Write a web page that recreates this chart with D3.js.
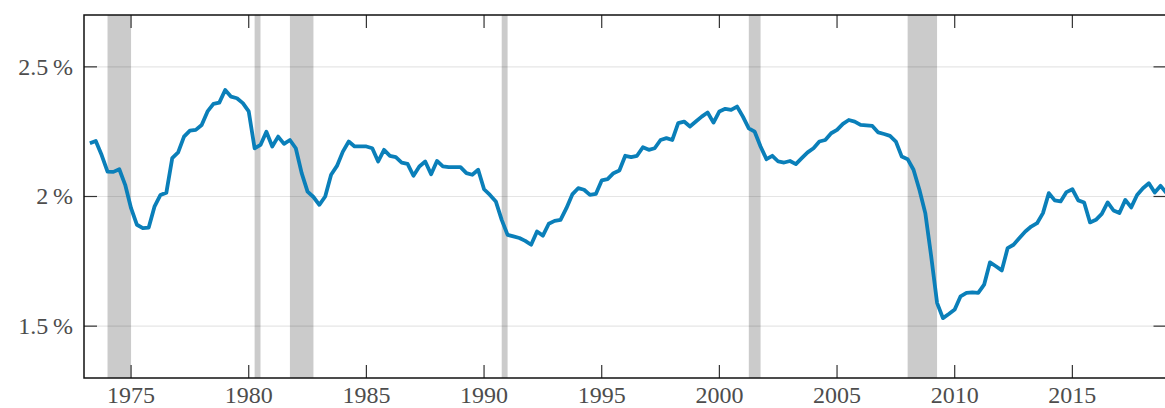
<!DOCTYPE html>
<html>
<head>
<meta charset="utf-8">
<script src="https://cdn.jsdelivr.net/npm/d3@7"></script>
<style>
  html, body { margin: 0; padding: 0; background: #fff; }
</style>
</head>
<body>
<div id="viz"></div>
<script>
var W = 1165, H = 408;
var margin = {left: 84, top: 15, right: -1.5, bottom: 30};
var labelFont = "'Liberation Serif', 'Times New Roman', 'DejaVu Serif', serif";

// quarterly series, first value is 1973 Q2 (plotted at 1973.25)
var firstQuarter = 1973.25;
var values = [
                2.205, 2.214, 2.160,   // 1973
  2.096, 2.095, 2.105, 2.045,          // 1974
  1.955, 1.891, 1.878, 1.880,          // 1975
  1.962, 2.006, 2.015, 2.148,          // 1976
  2.170, 2.231, 2.254, 2.257,          // 1977
  2.276, 2.328, 2.357, 2.362,          // 1978
  2.411, 2.385, 2.379, 2.360,          // 1979
  2.328, 2.186, 2.199, 2.250,          // 1980
  2.193, 2.231, 2.203, 2.218,          // 1981
  2.186, 2.090, 2.019, 1.998,          // 1982
  1.968, 2.000, 2.084, 2.118,          // 1983
  2.173, 2.212, 2.193, 2.193,          // 1984
  2.193, 2.186, 2.135, 2.180,          // 1985
  2.157, 2.152, 2.131, 2.126,          // 1986
  2.080, 2.116, 2.135, 2.086,          // 1987
  2.137, 2.116, 2.113, 2.113,          // 1988
  2.113, 2.090, 2.084, 2.103,          // 1989
  2.028, 2.006, 1.981, 1.910,          // 1990
  1.852, 1.846, 1.840, 1.829,          // 1991
  1.814, 1.865, 1.849, 1.895,          // 1992
  1.906, 1.910, 1.955, 2.008,          // 1993
  2.032, 2.026, 2.006, 2.010,          // 1994
  2.062, 2.067, 2.090, 2.100,          // 1995
  2.157, 2.152, 2.157, 2.190,          // 1996
  2.180, 2.186, 2.218, 2.225,          // 1997
  2.218, 2.283, 2.289, 2.270,          // 1998
  2.289, 2.308, 2.324, 2.285,          // 1999
  2.328, 2.338, 2.334, 2.347,          // 2000
  2.308, 2.263, 2.250, 2.193,          // 2001
  2.144, 2.157, 2.135, 2.131,          // 2002
  2.137, 2.125, 2.148, 2.170,          // 2003
  2.186, 2.212, 2.218, 2.244,          // 2004
  2.257, 2.280, 2.295, 2.289,          // 2005
  2.276, 2.274, 2.272, 2.247,          // 2006
  2.241, 2.234, 2.212, 2.154,          // 2007
  2.144, 2.103, 2.026, 1.936,          // 2008
  1.770, 1.590, 1.531, 1.547,          // 2009
  1.564, 1.615, 1.628, 1.630,          // 2010
  1.628, 1.660, 1.746, 1.731,          // 2011
  1.715, 1.801, 1.814, 1.840,          // 2012
  1.865, 1.884, 1.897, 1.936,          // 2013
  2.013, 1.985, 1.981, 2.017,          // 2014
  2.028, 1.985, 1.977, 1.900,          // 2015
  1.910, 1.933, 1.977, 1.946,          // 2016
  1.936, 1.987, 1.958, 2.006,          // 2017
  2.032, 2.051, 2.015, 2.041,          // 2018
  2.013                                // 2019
];

// recession periods (start, end) in fractional years
var recessions = [
  [1974.0, 1975.0],
  [1980.25, 1980.5],
  [1981.75, 1982.75],
  [1990.75, 1991.0],
  [2001.25, 2001.75],
  [2008.0, 2009.25]
];

var xTicks = [1975, 1980, 1985, 1990, 1995, 2000, 2005, 2010, 2015];
var yTicks = [1.5, 2.0, 2.5];
var yTickLabels = ["1.5\u2009%", "2\u2009%", "2.5\u2009%"];

var data = values.map(function(v, i) {
  return {year: firstQuarter + i * 0.25, value: v};
});

var svg = d3.select("#viz").append("svg")
  .attr("width", W)
  .attr("height", H);

var x = d3.scaleLinear().domain([1973, 2019]).range([margin.left, W - margin.right]);
var y = d3.scaleLinear().domain([1.3, 2.7]).range([H - margin.bottom, margin.top]);

var x0 = x.range()[0], x1 = x.range()[1];
var y0 = y.range()[0], y1 = y.range()[1];

// recession bands
svg.append("g").selectAll("rect")
  .data(recessions)
  .enter().append("rect")
  .attr("x", function(d) { return x(d[0]); })
  .attr("width", function(d) { return x(d[1]) - x(d[0]); })
  .attr("y", y1)
  .attr("height", y0 - y1)
  .attr("fill", "#cbcbcb");

// horizontal grid
svg.append("g").selectAll("line")
  .data(yTicks)
  .enter().append("line")
  .attr("x1", x0).attr("x2", x1)
  .attr("y1", function(d) { return y(d); })
  .attr("y2", function(d) { return y(d); })
  .attr("stroke", "#000")
  .attr("stroke-opacity", 0.1)
  .attr("stroke-width", 1.2);

// the series
var line = d3.line()
  .x(function(d) { return x(d.year); })
  .y(function(d) { return y(d.value); });

svg.append("path")
  .datum(data)
  .attr("d", line)
  .attr("fill", "none")
  .attr("stroke", "#0a7fb9")
  .attr("stroke-width", 3.8)
  .attr("stroke-linejoin", "round");

// axes with inward ticks, labels drawn separately
var tickLen = 13;
var axisG = svg.append("g").attr("stroke", "#333").attr("stroke-width", 1.2);

axisG.selectAll(".xb").data(xTicks).enter().append("line")
  .attr("x1", function(d) { return x(d); }).attr("x2", function(d) { return x(d); })
  .attr("y1", y0).attr("y2", y0 - tickLen);
axisG.selectAll(".xt").data(xTicks).enter().append("line")
  .attr("x1", function(d) { return x(d); }).attr("x2", function(d) { return x(d); })
  .attr("y1", y1).attr("y2", y1 + tickLen);
axisG.selectAll(".yl").data(yTicks).enter().append("line")
  .attr("x1", x0).attr("x2", x0 + tickLen)
  .attr("y1", function(d) { return y(d); }).attr("y2", function(d) { return y(d); });
axisG.selectAll(".yr").data(yTicks).enter().append("line")
  .attr("x1", x1).attr("x2", x1 - tickLen)
  .attr("y1", function(d) { return y(d); }).attr("y2", function(d) { return y(d); });

svg.append("rect")
  .attr("x", x0).attr("y", y1)
  .attr("width", x1 - x0).attr("height", y0 - y1)
  .attr("fill", "none")
  .attr("stroke", "#111")
  .attr("stroke-width", 1.5);

svg.append("g").selectAll("text")
  .data(xTicks)
  .enter().append("text")
  .attr("x", function(d) { return x(d); })
  .attr("y", 403)
  .attr("text-anchor", "middle")
  .attr("font-family", labelFont)
  .attr("font-size", 24)
  .attr("fill", "#4d4d4d")
  .text(function(d) { return d; });

svg.append("g").selectAll("text")
  .data(yTicks)
  .enter().append("text")
  .attr("x", 73)
  .attr("y", function(d) { return y(d); })
  .attr("dy", "0.33em")
  .attr("text-anchor", "end")
  .attr("font-family", labelFont)
  .attr("font-size", 24)
  .attr("fill", "#4d4d4d")
  .text(function(d, i) { return yTickLabels[i]; });
</script>
</body>
</html>
